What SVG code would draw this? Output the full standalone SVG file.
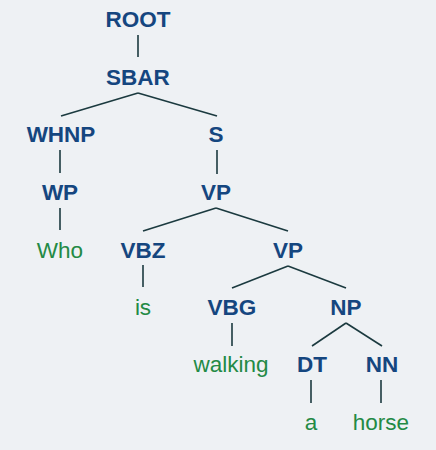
<svg xmlns="http://www.w3.org/2000/svg" width="436" height="450" viewBox="0 0 436 450">
<style>
.bg{fill:#eef1f4}
.n{font-family:"Liberation Sans",Arial,sans-serif;font-weight:bold;font-size:22.5px;fill:#15467f;text-anchor:middle}
.w{font-family:"Liberation Sans",Arial,sans-serif;font-size:22.5px;fill:#238a45;text-anchor:middle}
.e{stroke:#1b3a3f;stroke-width:1.6;fill:none}
</style>
<rect class="bg" x="0" y="0" width="436" height="450"/>
<g id="connectors">
<line class="e" x1="138" y1="35" x2="138" y2="57"/>
<line class="e" x1="138" y1="93" x2="61" y2="116"/>
<line class="e" x1="138" y1="93" x2="217" y2="116"/>
<line class="e" x1="60" y1="150" x2="60" y2="173"/>
<line class="e" x1="217" y1="150" x2="217" y2="174"/>
<line class="e" x1="60" y1="208" x2="60" y2="230"/>
<line class="e" x1="216" y1="208" x2="143" y2="231"/>
<line class="e" x1="216" y1="208" x2="288" y2="231"/>
<line class="e" x1="143" y1="265" x2="143" y2="287"/>
<line class="e" x1="288" y1="266" x2="232" y2="288"/>
<line class="e" x1="288" y1="266" x2="346" y2="288"/>
<line class="e" x1="232" y1="323" x2="232" y2="346"/>
<line class="e" x1="346" y1="323" x2="312" y2="346"/>
<line class="e" x1="346" y1="323" x2="382" y2="346"/>
<line class="e" x1="311" y1="380" x2="311" y2="403"/>
<line class="e" x1="381" y1="380" x2="381" y2="403"/>
</g>
<g id="ROOT"><text class="n" x="138" y="26.5">ROOT</text></g>
<g id="SBAR"><text class="n" x="138" y="84.5">SBAR</text></g>
<g id="WHNP"><text class="n" x="61" y="142">WHNP</text></g>
<g id="S"><text class="n" x="216" y="142">S</text></g>
<g id="WP"><text class="n" x="60" y="199.5">WP</text></g>
<g id="VP1"><text class="n" x="216" y="199.5">VP</text></g>
<g id="Who"><text class="w" x="60" y="257.5">Who</text></g>
<g id="VBZ"><text class="n" x="143" y="257.5">VBZ</text></g>
<g id="VP2"><text class="n" x="288" y="257.5">VP</text></g>
<g id="is"><text class="w" x="143" y="314.5">is</text></g>
<g id="VBG"><text class="n" x="232" y="314.5">VBG</text></g>
<g id="NP"><text class="n" x="346" y="314.5">NP</text></g>
<g id="walking"><text class="w" x="231" y="371.5">walking</text></g>
<g id="DT"><text class="n" x="312" y="371.5">DT</text></g>
<g id="NN"><text class="n" x="382" y="371.5">NN</text></g>
<g id="a"><text class="w" x="311" y="429.5">a</text></g>
<g id="horse"><text class="w" x="381" y="429.5">horse</text></g>
</svg>
